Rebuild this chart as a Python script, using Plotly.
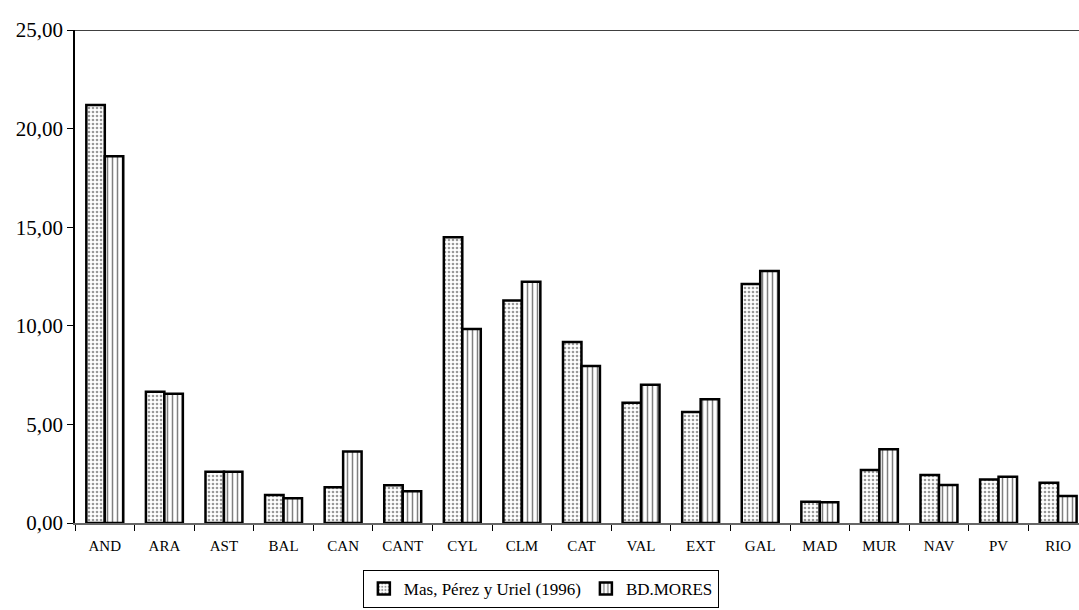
import plotly.graph_objects as go

# Regional shares (%) by autonomous community
regions = ["AND", "ARA", "AST", "BAL", "CAN", "CANT", "CYL", "CLM", "CAT",
           "VAL", "EXT", "GAL", "MAD", "MUR", "NAV", "PV", "RIO"]
mas_perez_uriel = [21.20, 6.65, 2.60, 1.42, 1.81, 1.91, 14.49, 11.28, 9.18,
                   6.10, 5.63, 12.12, 1.08, 2.69, 2.43, 2.20, 2.04]
bd_mores = [18.60, 6.55, 2.60, 1.25, 3.62, 1.61, 9.84, 12.24, 7.96,
            7.01, 6.28, 12.78, 1.05, 3.74, 1.93, 2.35, 1.37]

y_ticks = [0, 5, 10, 15, 20, 25]

FONT = "Liberation Serif, Times New Roman, serif"

fig = go.Figure()
fig.add_trace(go.Bar(
    x=regions, y=mas_perez_uriel, name="Mas, Pérez y Uriel (1996)",
    marker=dict(color="white",
                line=dict(color="black", width=2.5),
                pattern=dict(shape=".", fgcolor="#333333", bgcolor="white",
                             size=4, solidity=0.35)),
))
fig.add_trace(go.Bar(
    x=regions, y=bd_mores, name="BD.MORES",
    marker=dict(color="white",
                line=dict(color="black", width=2.5),
                pattern=dict(shape="|", fgcolor="black", bgcolor="white",
                             size=5, solidity=0.3)),
))

# top frame line
fig.add_shape(type="line", xref="paper", yref="y", x0=0, x1=1, y0=25, y1=25,
              line=dict(color="black", width=1.5))

fig.update_layout(
    width=1079, height=610,
    margin=dict(l=75, r=0, t=30, b=87),
    paper_bgcolor="white", plot_bgcolor="white",
    barmode="group", bargap=0.38, bargroupgap=0,
    separators=",.",
    font=dict(family=FONT, color="black"),
    showlegend=True,
    legend=dict(orientation="h", x=0.464, xanchor="center", y=-0.095,
                yanchor="top", font=dict(family=FONT, size=17, color="black"),
                bordercolor="black", borderwidth=1, bgcolor="white",
                itemwidth=30, tracegroupgap=0),
)

fig.update_xaxes(
    range=[-0.5, 16.35], showline=True, linecolor="#666666", linewidth=1.5,
    ticks="outside", tickson="boundaries", ticklen=6, tickcolor="black",
    ticklabelstandoff=8,
    tickfont=dict(family=FONT, size=15, color="black"),
    showgrid=False, zeroline=False,
)
fig.update_yaxes(
    range=[0, 25], tickvals=y_ticks, tickformat=".2f",
    showline=True, linecolor="black", linewidth=1.5,
    ticks="outside", ticklen=6, tickcolor="black",
    tickfont=dict(family=FONT, size=21, color="black"),
    showgrid=False, zeroline=False,
)

fig.write_html("out.html")
